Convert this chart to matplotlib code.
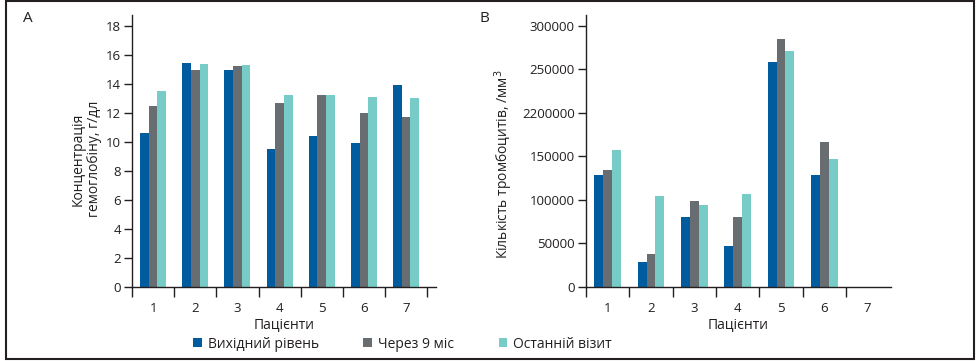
import numpy as np
import matplotlib
matplotlib.use('Agg')
import matplotlib.pyplot as plt
from matplotlib.patches import Rectangle

plt.rcParams['font.family'] = ['Open Sans', 'DejaVu Sans']

patients = ['1', '2', '3', '4', '5', '6', '7']
series = ['Вихідний рівень', 'Через 9 міс', 'Останній візит']
colors = ['#005c9e', '#676d70', '#78ccc8']

# panel A: haemoglobin, g/dl
hb_base = [10.6, 15.45, 15.0, 9.5, 10.4, 9.9, 13.9]
hb_9m = [12.5, 15.0, 15.25, 12.7, 13.25, 12.0, 11.7]
hb_last = [13.5, 15.4, 15.3, 13.25, 13.25, 13.1, 13.0]

# panel B: platelets, /mm3 (no data for patient 7)
plt_base = [129000, 29000, 80500, 47500, 258500, 129000, np.nan]
plt_9m = [134500, 38000, 99000, 80500, 284500, 166500, np.nan]
plt_last = [157500, 104500, 94500, 107000, 271000, 147000, np.nan]

hb_ticks = list(range(0, 19, 2))
plt_ticks = [0, 50000, 100000, 150000, 200000, 250000, 300000]
plt_tick_labels = ['0', '50000', '100000', '150000', '2200000',
                   '250000', '300000']

dark = '#231f20'
fs = 9.5


def draw_panel(ax, data, xmax, nsep):
    x = np.arange(len(patients))
    w = 0.205
    for i, (vals, c) in enumerate(zip(data, colors)):
        ax.bar(x + (i - 1) * w, vals, w, color=c, label=series[i],
               linewidth=0)
    ax.set_xlim(-0.5, xmax)
    ax.set_xticks(x)
    ax.set_xticklabels(patients, fontsize=fs, color=dark)
    ax.set_xticks(np.arange(nsep) - 0.5, minor=True)
    ax.tick_params(axis='x', which='major', length=0, pad=11)
    ax.tick_params(axis='x', which='minor', length=7, width=1,
                   color=dark, direction='out')
    ax.tick_params(axis='y', length=6, width=1, color=dark,
                   labelsize=fs, labelcolor=dark, pad=2)
    for s in ['top', 'right']:
        ax.spines[s].set_visible(False)
    for s in ['left', 'bottom']:
        ax.spines[s].set_color(dark)
        ax.spines[s].set_linewidth(1)
    ax.set_xlabel('Пацієнти', fontsize=10, color=dark, labelpad=1)


fig = plt.figure(figsize=(9.77, 3.61), dpi=100)

ax1 = fig.add_axes([0.1351, 0.2050, 0.3112, 0.7535])
draw_panel(ax1, [hb_base, hb_9m, hb_last], 6.71, 8)
ax1.set_ylim(0, 18.76)
ax1.set_yticks(hb_ticks)
ax1.set_ylabel('Концентрація\nгемоглобіну, г/дл', fontsize=10,
               color=dark, linespacing=1.1)
ax1.yaxis.set_label_coords(-0.10, 0.47)

ax2 = fig.add_axes([0.5998, 0.2050, 0.3122, 0.7535])
draw_panel(ax2, [plt_base, plt_9m, plt_last], 6.54, 7)
ax2.set_ylim(0, 312500)
ax2.set_yticks(plt_ticks)
ax2.set_yticklabels(plt_tick_labels)
ax2.set_ylabel('Кількість тромбоцитів, /мм$^3$', fontsize=10, color=dark)
ax2.yaxis.set_label_coords(-0.232, 0.45)

fig.text(0.028, 0.95, 'A', fontsize=11, color=dark, ha='center',
         va='center')
fig.text(0.496, 0.95, 'B', fontsize=11, color=dark, ha='center',
         va='center')

handles, labels = ax1.get_legend_handles_labels()
fig.legend(handles, labels, loc='center', bbox_to_anchor=(0.412, 0.047),
           ncol=3, frameon=False, fontsize=10, handlelength=0.6,
           handleheight=0.6, handletextpad=0.45, columnspacing=3.2,
           labelcolor=dark)

fig.add_artist(Rectangle((0.006, 0.006), 0.991, 0.99, fill=False,
                         edgecolor=dark, linewidth=1.5,
                         transform=fig.transFigure))

fig.savefig('out.png', dpi=100)
